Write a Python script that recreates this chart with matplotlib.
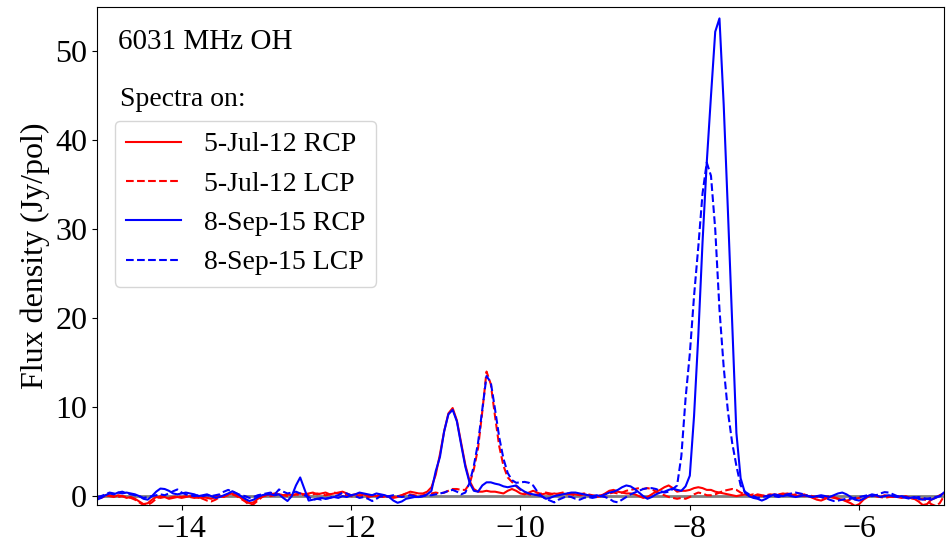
import numpy as np
import matplotlib
matplotlib.use("Agg")
import matplotlib.pyplot as plt

plt.rcParams['font.family'] = ['Liberation Serif', 'DejaVu Serif']

# velocity channels (km/s), 0.05 km/s spacing from -15 to -5
velocity = np.round(np.arange(-15.0, -4.999, 0.05), 2)

# 5-Jul-12 RCP
jul12_rcp = [
    -0.3, -0.1, 0.1, 0.0, -0.1, 0.1, 0.0, -0.2, -0.1, -0.3,
    -0.6, -0.9, -0.8, -0.4, -0.1, -0.2, -0.1, -0.3, -0.2, -0.1,
    -0.2, -0.1, 0.0, -0.1, -0.2, -0.1, -0.2, -0.3, -0.1, 0.0,
    -0.1, 0.2, 0.3, 0.1, -0.2, -0.5, -0.8, -0.7, -0.3, 0.0,
    0.1, 0.2, 0.3, 0.2, 0.1, 0.2, 0.1, 0.2, 0.3, 0.2,
    0.3, 0.4, 0.2, 0.3, 0.4, 0.2, 0.3, 0.4, 0.5, 0.3,
    0.1, 0.2, 0.3, 0.2, 0.0, 0.1, 0.0, -0.1, 0.0, -0.1,
    -0.2, -0.1, 0.1, 0.3, 0.5, 0.4, 0.3, 0.3, 0.5, 1.0,
    2.4, 4.7, 7.3, 9.3, 9.9, 8.5, 6.0, 3.5, 1.7, 0.8,
    0.5, 0.5, 0.6, 0.5, 0.5, 0.4, 0.3, 0.6, 0.8, 0.6,
    0.3, 0.2, 0.4, 0.6, 0.4, 0.2, 0.3, 0.2, 0.3, 0.2,
    0.3, 0.2, 0.3, 0.2, 0.1, 0.2, 0.1, 0.0, -0.1, 0.0,
    0.3, 0.6, 0.7, 0.5, 0.4, 0.3, 0.3, 0.2, 0.0, -0.2,
    -0.1, 0.2, 0.5, 0.7, 1.0, 1.2, 0.9, 0.5, 0.6, 0.6,
    0.7, 0.9, 1.0, 0.9, 0.7, 0.7, 0.5, 0.4, 0.3, 0.2,
    0.1, 0.0, 0.1, 0.2, 0.1, 0.0, 0.2, 0.1, 0.0, 0.1,
    0.2, 0.1, 0.2, 0.3, 0.2, 0.0, 0.1, 0.2, 0.0, -0.2,
    -0.4, -0.5, -0.3, -0.1, -0.2, -0.3, -0.4, -0.6, -0.8, -1.1,
    -0.9, -0.4, -0.1, 0.1, 0.0, -0.1, 0.1, 0.0, -0.1, 0.0,
    -0.1, 0.0, -0.2, -0.3, -0.6, -1.0, -0.9, -0.4, -0.2, 0.1,
    0.3,
]

# 5-Jul-12 LCP
jul12_lcp = [
    -0.1, -0.2, 0.0, 0.1, 0.0, -0.1, 0.0, -0.1, -0.2, -0.4,
    -0.7, -1.0, -1.0, -0.7, -0.3, 0.0, -0.1, -0.2, -0.1, 0.0,
    -0.1, 0.0, -0.1, -0.2, -0.1, -0.3, -0.5, -0.6, -0.4, -0.1,
    0.0, 0.1, 0.2, 0.0, -0.3, -0.6, -1.0, -0.9, -0.5, -0.1,
    0.1, 0.0, 0.1, 0.2, 0.1, 0.0, 0.1, 0.2, 0.1, 0.2,
    0.1, 0.2, 0.3, 0.2, 0.1, 0.2, 0.4, 0.3, 0.2, 0.1,
    0.0, -0.1, 0.1, 0.0, -0.1, 0.0, 0.1, 0.0, -0.1, 0.0,
    -0.1, 0.0, 0.1, 0.3, 0.2, 0.1, 0.0, 0.1, 0.2, 0.3,
    0.4, 0.3, 0.4, 0.6, 0.8, 0.8, 0.7, 0.7, 1.4, 3.0,
    5.4, 9.5, 14.0, 12.6, 9.0, 5.6, 3.4, 2.1, 1.6, 1.1,
    0.7, 0.4, 0.2, 0.1, 0.2, 0.3, 0.4, 0.3, 0.2, 0.3,
    0.4, 0.3, 0.2, 0.1, 0.2, 0.3, 0.2, 0.1, 0.0, 0.1,
    0.2, 0.3, 0.4, 0.3, 0.4, 0.6, 0.7, 0.8, 0.9, 0.8,
    0.9, 0.8, 0.5, 0.3, 0.1, -0.1, -0.2, -0.3, -0.2, -0.3,
    -0.1, 0.2, 0.4, 0.3, 0.1, 0.1, 0.2, 0.4, 0.6, 0.7,
    0.8, 0.7, 0.4, 0.2, 0.1, 0.2, 0.1, 0.0, 0.1, 0.2,
    0.1, 0.2, 0.3, 0.2, 0.1, 0.2, 0.1, 0.0, 0.1, 0.0,
    -0.1, -0.2, -0.1, 0.0, -0.1, -0.3, -0.4, -0.5, -0.4, -0.3,
    -0.2, -0.1, 0.0, 0.1, 0.0, -0.1, -0.2, -0.1, 0.0, -0.1,
    -0.2, -0.1, -0.2, -0.3, -0.4, -0.3, -0.5, -0.9, -1.1, -0.8,
    0.0,
]

# 8-Sep-15 RCP
sep15_rcp = [
    -0.4, -0.2, 0.1, 0.3, 0.2, 0.4, 0.3, 0.4, 0.3, 0.2,
    0.0, -0.3, -0.4, 0.0, 0.5, 0.85, 0.8, 0.6, 0.3, 0.2,
    0.3, 0.4, 0.3, 0.2, 0.0, 0.1, 0.2, 0.0, -0.2, -0.1,
    0.1, 0.3, 0.55, 0.3, 0.0, -0.3, -0.55, -0.4, -0.1, 0.1,
    0.2, 0.2, 0.1, 0.2, -0.2, -0.55, 0.0, 1.2, 2.1, 0.8,
    -0.5, -0.4, -0.3, -0.2, -0.3, -0.2, -0.1, -0.2, 0.0, -0.1,
    0.1, 0.2, 0.4, 0.3, 0.2, 0.1, 0.3, 0.2, 0.1, -0.1,
    -0.5, -0.75, -0.6, -0.3, -0.2, -0.1, -0.1, 0.0, 0.2, 0.6,
    2.8, 4.4, 7.3, 9.2, 9.7, 8.4, 5.8, 3.3, 1.5, 0.6,
    0.5, 1.2, 1.55, 1.55, 1.4, 1.3, 1.1, 1.0, 1.1, 1.2,
    0.8, 0.5, 0.3, 0.2, 0.1, 0.0, -0.3, -0.2, 0.0, 0.1,
    0.2, 0.3, 0.4, 0.4, 0.3, 0.2, 0.1, 0.0, 0.1, 0.0,
    0.2, 0.4, 0.5, 0.7, 1.0, 1.2, 1.1, 0.8, 0.4, 0.0,
    -0.3, -0.1, 0.2, 0.4, 0.5, 0.7, 0.85, 0.7, 0.6, 1.1,
    2.3, 9.0, 18.0, 28.5, 37.5, 45.0, 52.2, 53.7, 44.0, 32.0,
    19.5, 7.1, 2.0, 0.4, 0.0, -0.2, -0.3, -0.5, -0.3, 0.0,
    0.2, 0.1, 0.0, 0.1, 0.0, -0.1, 0.0, 0.1, 0.0, -0.1,
    0.0, 0.1, 0.0, -0.1, 0.1, 0.3, 0.4, 0.2, -0.1, -0.4,
    -0.5, -0.3, 0.0, 0.2, 0.1, -0.1, 0.0, 0.1, 0.0, -0.1,
    0.0, -0.1, -0.2, -0.1, -0.3, -0.4, -0.3, -0.4, -0.2, 0.0,
    0.4,
]

# 8-Sep-15 LCP
sep15_lcp = [
    -0.1, 0.0, 0.2, 0.4, 0.3, 0.4, 0.5, 0.3, 0.2, 0.1,
    0.0, -0.2, -0.1, 0.0, 0.1, 0.2, 0.1, 0.3, 0.55, 0.75,
    0.4, 0.2, 0.1, 0.0, 0.1, 0.0, 0.1, 0.0, 0.1, 0.2,
    0.5, 0.7, 0.5, 0.3, 0.1, 0.0, -0.2, -0.1, 0.1, 0.2,
    0.3, 0.4, 0.2, 0.75, 0.5, 0.3, 0.4, 0.5, 0.3, 0.1,
    -0.1, -0.4, -0.3, -0.4, -0.3, -0.2, 0.0, 0.1, 0.4, 0.3,
    0.1, 0.0, -0.2, -0.1, -0.3, -0.55, -0.3, 0.0, -0.1, 0.0,
    0.1, 0.0, -0.1, 0.0, 0.1, 0.0, -0.1, 0.0, 0.1, 0.1,
    0.2, 0.3, 0.4, 0.6, 0.7, 0.5, 0.2, 0.4, 1.5, 3.4,
    6.0, 9.8, 13.5, 12.8, 9.8, 6.6, 4.2, 2.6, 1.8, 1.5,
    1.55, 1.6, 1.5, 1.2, 0.5, 0.0, -0.3, -0.5, -0.7, -0.4,
    -0.2, 0.0, -0.1, -0.3, -0.4, -0.2, -0.1, -0.2, -0.1, 0.0,
    -0.1, -0.3, -0.6, -0.7, -0.4, -0.1, 0.2, 0.4, 0.6, 0.8,
    0.9, 0.9, 0.8, 0.6, 0.4, 0.5, 0.8, 1.2, 4.5, 11.0,
    16.0, 22.5, 28.0, 34.0, 37.5, 36.0, 30.0, 21.0, 14.5, 9.5,
    6.0, 3.4, 1.2, 0.5, 0.2, 0.0, -0.2, -0.1, 0.0, 0.1,
    0.0, -0.1, 0.1, 0.2, 0.3, 0.4, 0.3, 0.2, 0.0, -0.1,
    0.0, -0.1, -0.2, -0.4, -0.55, -0.5, -0.4, -0.3, -0.3, -0.2,
    -0.1, 0.0, 0.1, 0.0, 0.1, 0.3, 0.45, 0.4, 0.2, 0.0,
    -0.1, -0.2, -0.3, -0.2, -0.1, -0.2, -0.3, -0.2, -0.1, 0.0,
    0.2,
]

fig = plt.figure(figsize=(9.5, 5.38), dpi=100)
ax = fig.add_axes([0.102, 0.0613, 0.8916, 0.926])

ax.axhline(0, color='gray', lw=2, zorder=1)
ax.plot(velocity, jul12_rcp, color='r', lw=1.5, label='5-Jul-12 RCP')
ax.plot(velocity, jul12_lcp, color='r', lw=1.5, ls='--', label='5-Jul-12 LCP')
ax.plot(velocity, sep15_rcp, color='b', lw=1.5, label='8-Sep-15 RCP')
ax.plot(velocity, sep15_lcp, color='b', lw=1.5, ls='--', label='8-Sep-15 LCP')

ax.set_xlim(-15, -5)
ax.set_ylim(-1, 55)
ax.set_xticks([-14, -12, -10, -8, -6])
ax.set_yticks([0, 10, 20, 30, 40, 50])
ax.tick_params(labelsize=23)
ax.set_ylabel('Flux density (Jy/pol)', fontsize=23)

ax.text(0.025, 0.955, '6031 MHz OH', transform=ax.transAxes, fontsize=21, va='top')
ax.text(0.027, 0.84, 'Spectra on:', transform=ax.transAxes, fontsize=20, va='top')
ax.legend(loc='upper left', bbox_to_anchor=(0.021, 0.771), borderaxespad=0, fontsize=20)

fig.savefig('out.png', dpi=100)
